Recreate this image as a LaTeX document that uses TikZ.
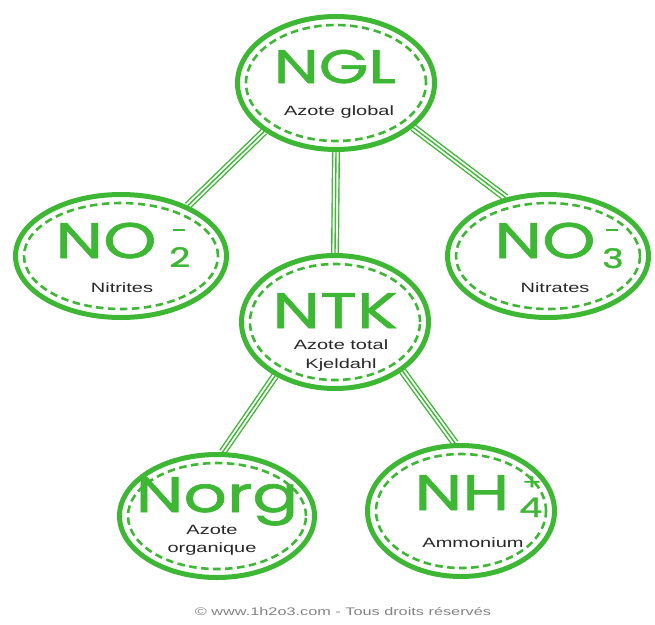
\documentclass[tikz,border=0pt]{standalone}
\usepackage{fontspec}
\usetikzlibrary{shapes.geometric}
\newfontfamily\bigf{Poppins}[FakeStretch=1.36, FakeBold=1.3]
\newfontfamily\labf{Liberation Sans}[FakeStretch=1.48]
\definecolor{G}{RGB}{61,183,52}
\definecolor{T}{RGB}{40,40,40}
\definecolor{F}{RGB}{130,130,130}
\pgfdeclarelayer{background}
\pgfsetlayers{background,main}
\tikzset{
  ring/.style={ellipse, draw=G, line width=5pt, fill=white, inner sep=0pt},
  ringdash/.style={draw=G, line width=2.6pt, dash pattern=on 7.5pt off 4.5pt},
  link/.style={draw=G, line width=8pt, line cap=butt,
     postaction={draw=white, line width=5.2pt},
     postaction={draw=G, line width=1.4pt}},
  bigtxt/.style={text=G, font=\bigf\fontsize{50}{50}\selectfont, inner sep=0pt, anchor=base, text depth=0pt},
  subtxt/.style={text=G, font=\bigf\fontsize{27}{27}\selectfont, inner sep=0pt, anchor=base west},
  minus/.style={fill=G, inner sep=0pt, minimum width=12pt, minimum height=2.4pt, rectangle},
  plus/.style={text=G, font=\bigf\fontsize{21}{21}\selectfont, inner sep=0pt, anchor=center},
  labtxt/.style={text=T, font=\labf\fontsize{13.5}{18.5}\selectfont, inner sep=0pt, anchor=base, align=center},
  foot/.style={text=F, font=\labf\fontsize{11}{11}\selectfont, inner sep=0pt, anchor=base}
}
\newcommand\ring[5]{%
  \node[ring, minimum width={2*#4pt-5pt}, minimum height={2*#5pt-5pt}] (#1) at (#2,#3) {};
  \draw[ringdash] (#1.center) ellipse [x radius={#4pt-11pt}, y radius={#5pt-11pt}];
}
\begin{document}
\begin{tikzpicture}[x=1pt,y=-1pt]
\useasboundingbox (0,0) rectangle (655,624);
\ring{ngl}{336}{83}{101}{69}
\ring{no2}{121}{256}{108}{64}
\ring{no3}{548}{256}{103}{64}
\ring{ntk}{335}{322}{96}{69}
\ring{norg}{217}{516}{100}{64}
\ring{nh4}{461}{511}{96}{68}

\begin{pgfonlayer}{background}
\draw[link] (ngl.214) -- (no2.37);
\draw[link] (ngl.south) -- (ntk.north);
\draw[link] (ngl.330) -- (no3.126);
\draw[link] (ntk.222) -- (norg.85);
\draw[link] (ntk.324) -- (nh4.95);
\end{pgfonlayer}

% NGL
\node[bigtxt, font=\bigf\fontsize{47}{47}\selectfont] (tngl) at (335,83) {NGL};
\node[labtxt] (lngl) at (339,115) {Azote global};
% NO2-
\node[bigtxt] (tno2) at (106,258) {NO};
\node[subtxt] (sno2) at (169,267) {2};
\node[minus] (mno2) at (179,230) {};
\node[labtxt] (lno2) at (122,292) {Nitrites};
% NO3-
\node[bigtxt] (tno3) at (545,258) {NO};
\node[subtxt] (sno3) at (602,268) {3};
\node[minus] (mno3) at (612,230) {};
\node[labtxt] (lno3) at (555,292) {Nitrates};
% NTK
\node[bigtxt] (tntk) at (335,328) {NTK};
\node[labtxt, anchor=north] (lntk) at (341,340) {Azote total\\Kjeldahl};
% Norg
\node[bigtxt] (tnorg) at (217,512) {Norg};
\node[labtxt, anchor=north] (lnorg) at (212,525) {Azote\\organique};
% NH4+
\node[bigtxt] (tnh4) at (462,510) {NH};
\node[subtxt] (snh4) at (519,517) {4};
\node[plus] (pnh4) at (532,483) {+};
\node[labtxt] (lnh4) at (473,547) {Ammonium};
% footer
\node[foot] (foot) at (343,615) {© www.1h2o3.com - Tous droits réservés};
\end{tikzpicture}
\end{document}
